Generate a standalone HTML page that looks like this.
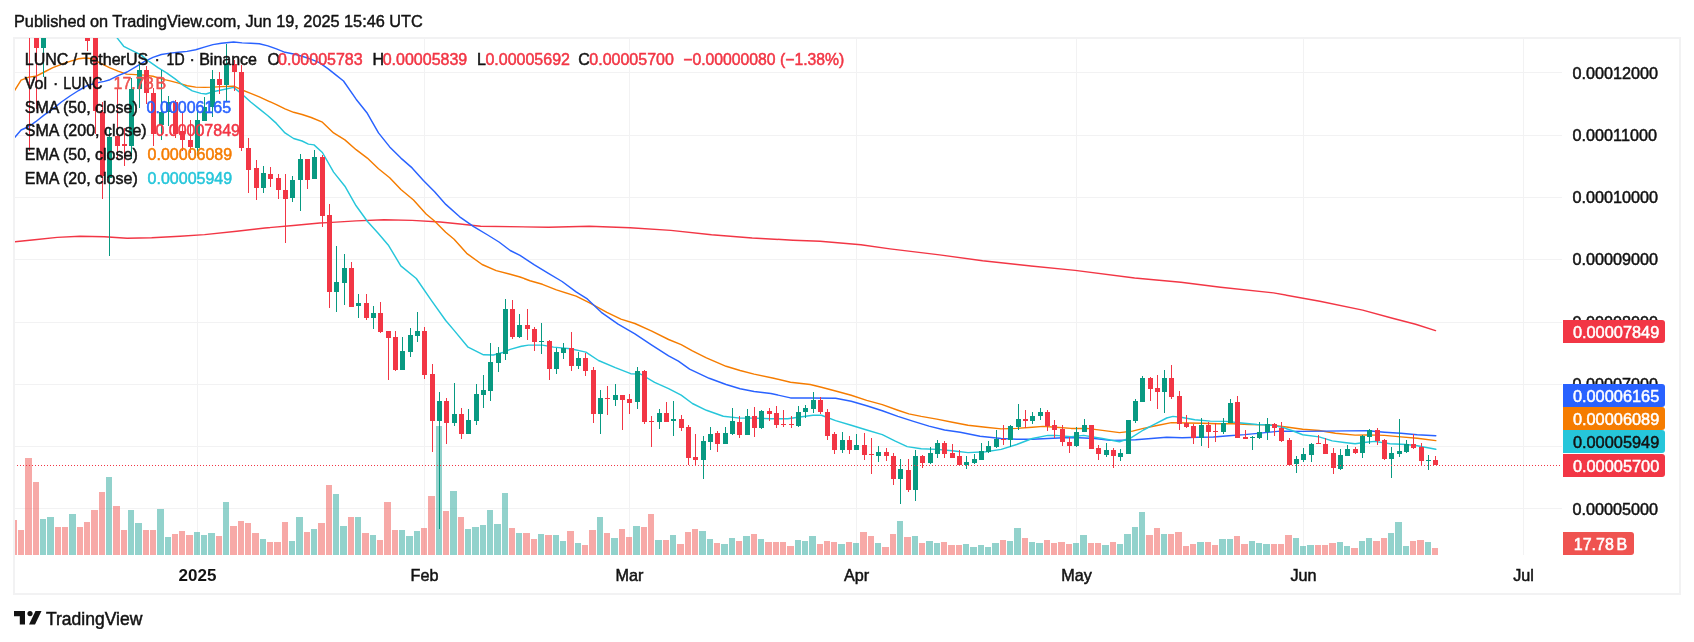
<!DOCTYPE html><html><head><meta charset="utf-8"><style>html,body{margin:0;padding:0;background:#fff;width:1694px;height:642px;overflow:hidden}svg{display:block;will-change:transform}text{font-family:"Liberation Sans",sans-serif}</style></head><body><svg width="1694" height="642" viewBox="0 0 1694 642" shape-rendering="crispEdges"><rect width="1694" height="642" fill="#fff"/><text x="14" y="27" font-size="16.3" fill="#131313" stroke="#131313" stroke-width="0.45">Published on TradingView.com, Jun 19, 2025 15:46 UTC</text><rect x="14" y="38" width="1666" height="556" fill="none" stroke="#f2f2f3" stroke-width="2"/><rect x="15" y="508" width="1547" height="1" fill="#f2f2f3"/><rect x="15" y="446" width="1547" height="1" fill="#f2f2f3"/><rect x="15" y="384" width="1547" height="1" fill="#f2f2f3"/><rect x="15" y="322" width="1547" height="1" fill="#f2f2f3"/><rect x="15" y="259" width="1547" height="1" fill="#f2f2f3"/><rect x="15" y="197" width="1547" height="1" fill="#f2f2f3"/><rect x="15" y="135" width="1547" height="1" fill="#f2f2f3"/><rect x="15" y="72" width="1547" height="1" fill="#f2f2f3"/><rect x="197" y="38" width="1" height="517" fill="#f2f2f3"/><rect x="424" y="38" width="1" height="517" fill="#f2f2f3"/><rect x="629" y="38" width="1" height="517" fill="#f2f2f3"/><rect x="856" y="38" width="1" height="517" fill="#f2f2f3"/><rect x="1076" y="38" width="1" height="517" fill="#f2f2f3"/><rect x="1303" y="38" width="1" height="517" fill="#f2f2f3"/><rect x="1523" y="38" width="1" height="517" fill="#f2f2f3"/><svg x="15" y="38" width="1547" height="517" viewBox="15 38 1547 517" overflow="hidden"><rect x="11" y="520" width="6" height="35" fill="rgba(239,83,80,0.5)"/><rect x="18" y="530" width="6" height="25" fill="rgba(239,83,80,0.5)"/><rect x="25" y="458" width="7" height="97" fill="rgba(239,83,80,0.5)"/><rect x="33" y="482" width="6" height="73" fill="rgba(239,83,80,0.5)"/><rect x="40" y="519" width="6" height="36" fill="rgba(38,166,154,0.5)"/><rect x="47" y="517" width="7" height="38" fill="rgba(38,166,154,0.5)"/><rect x="55" y="527" width="6" height="28" fill="rgba(239,83,80,0.5)"/><rect x="62" y="527" width="6" height="28" fill="rgba(239,83,80,0.5)"/><rect x="69" y="514" width="7" height="41" fill="rgba(38,166,154,0.5)"/><rect x="77" y="527" width="6" height="28" fill="rgba(239,83,80,0.5)"/><rect x="84" y="522" width="6" height="33" fill="rgba(239,83,80,0.5)"/><rect x="91" y="510" width="7" height="45" fill="rgba(239,83,80,0.5)"/><rect x="99" y="492" width="6" height="63" fill="rgba(239,83,80,0.5)"/><rect x="106" y="477" width="6" height="78" fill="rgba(38,166,154,0.5)"/><rect x="113" y="506" width="7" height="49" fill="rgba(239,83,80,0.5)"/><rect x="121" y="530" width="6" height="25" fill="rgba(239,83,80,0.5)"/><rect x="128" y="510" width="6" height="45" fill="rgba(38,166,154,0.5)"/><rect x="135" y="523" width="7" height="32" fill="rgba(38,166,154,0.5)"/><rect x="143" y="530" width="6" height="25" fill="rgba(239,83,80,0.5)"/><rect x="150" y="530" width="6" height="25" fill="rgba(239,83,80,0.5)"/><rect x="157" y="509" width="7" height="46" fill="rgba(38,166,154,0.5)"/><rect x="165" y="537" width="6" height="18" fill="rgba(38,166,154,0.5)"/><rect x="172" y="534" width="6" height="21" fill="rgba(239,83,80,0.5)"/><rect x="179" y="531" width="6" height="24" fill="rgba(239,83,80,0.5)"/><rect x="186" y="535" width="7" height="20" fill="rgba(239,83,80,0.5)"/><rect x="194" y="532" width="6" height="23" fill="rgba(38,166,154,0.5)"/><rect x="201" y="535" width="6" height="20" fill="rgba(38,166,154,0.5)"/><rect x="208" y="533" width="7" height="22" fill="rgba(38,166,154,0.5)"/><rect x="216" y="536" width="6" height="19" fill="rgba(239,83,80,0.5)"/><rect x="223" y="502" width="6" height="53" fill="rgba(38,166,154,0.5)"/><rect x="230" y="526" width="7" height="29" fill="rgba(239,83,80,0.5)"/><rect x="238" y="521" width="6" height="34" fill="rgba(239,83,80,0.5)"/><rect x="245" y="523" width="6" height="32" fill="rgba(239,83,80,0.5)"/><rect x="252" y="533" width="7" height="22" fill="rgba(239,83,80,0.5)"/><rect x="260" y="539" width="6" height="16" fill="rgba(38,166,154,0.5)"/><rect x="267" y="542" width="6" height="13" fill="rgba(239,83,80,0.5)"/><rect x="274" y="542" width="7" height="13" fill="rgba(239,83,80,0.5)"/><rect x="282" y="522" width="6" height="33" fill="rgba(239,83,80,0.5)"/><rect x="289" y="541" width="6" height="14" fill="rgba(38,166,154,0.5)"/><rect x="296" y="517" width="7" height="38" fill="rgba(38,166,154,0.5)"/><rect x="304" y="532" width="6" height="23" fill="rgba(239,83,80,0.5)"/><rect x="311" y="529" width="6" height="26" fill="rgba(38,166,154,0.5)"/><rect x="318" y="523" width="7" height="32" fill="rgba(239,83,80,0.5)"/><rect x="326" y="485" width="6" height="70" fill="rgba(239,83,80,0.5)"/><rect x="333" y="494" width="6" height="61" fill="rgba(38,166,154,0.5)"/><rect x="340" y="526" width="7" height="29" fill="rgba(38,166,154,0.5)"/><rect x="348" y="517" width="6" height="38" fill="rgba(239,83,80,0.5)"/><rect x="355" y="517" width="6" height="38" fill="rgba(38,166,154,0.5)"/><rect x="362" y="533" width="7" height="22" fill="rgba(239,83,80,0.5)"/><rect x="370" y="535" width="6" height="20" fill="rgba(38,166,154,0.5)"/><rect x="377" y="540" width="6" height="15" fill="rgba(239,83,80,0.5)"/><rect x="384" y="502" width="7" height="53" fill="rgba(239,83,80,0.5)"/><rect x="392" y="530" width="6" height="25" fill="rgba(239,83,80,0.5)"/><rect x="399" y="530" width="6" height="25" fill="rgba(38,166,154,0.5)"/><rect x="406" y="536" width="7" height="19" fill="rgba(38,166,154,0.5)"/><rect x="414" y="531" width="6" height="24" fill="rgba(38,166,154,0.5)"/><rect x="421" y="528" width="6" height="27" fill="rgba(239,83,80,0.5)"/><rect x="428" y="496" width="7" height="59" fill="rgba(239,83,80,0.5)"/><rect x="436" y="426" width="6" height="129" fill="rgba(38,166,154,0.5)"/><rect x="443" y="511" width="6" height="44" fill="rgba(239,83,80,0.5)"/><rect x="450" y="491" width="7" height="64" fill="rgba(38,166,154,0.5)"/><rect x="458" y="517" width="6" height="38" fill="rgba(239,83,80,0.5)"/><rect x="465" y="529" width="6" height="26" fill="rgba(38,166,154,0.5)"/><rect x="472" y="527" width="7" height="28" fill="rgba(38,166,154,0.5)"/><rect x="480" y="525" width="6" height="30" fill="rgba(38,166,154,0.5)"/><rect x="487" y="510" width="6" height="45" fill="rgba(38,166,154,0.5)"/><rect x="494" y="524" width="7" height="31" fill="rgba(38,166,154,0.5)"/><rect x="502" y="493" width="6" height="62" fill="rgba(38,166,154,0.5)"/><rect x="509" y="528" width="6" height="27" fill="rgba(239,83,80,0.5)"/><rect x="516" y="533" width="6" height="22" fill="rgba(38,166,154,0.5)"/><rect x="523" y="533" width="7" height="22" fill="rgba(239,83,80,0.5)"/><rect x="531" y="539" width="6" height="16" fill="rgba(239,83,80,0.5)"/><rect x="538" y="534" width="6" height="21" fill="rgba(38,166,154,0.5)"/><rect x="545" y="535" width="7" height="20" fill="rgba(239,83,80,0.5)"/><rect x="553" y="535" width="6" height="20" fill="rgba(38,166,154,0.5)"/><rect x="560" y="541" width="6" height="14" fill="rgba(38,166,154,0.5)"/><rect x="567" y="531" width="7" height="24" fill="rgba(239,83,80,0.5)"/><rect x="575" y="543" width="6" height="12" fill="rgba(38,166,154,0.5)"/><rect x="582" y="545" width="6" height="10" fill="rgba(239,83,80,0.5)"/><rect x="589" y="530" width="7" height="25" fill="rgba(239,83,80,0.5)"/><rect x="597" y="517" width="6" height="38" fill="rgba(38,166,154,0.5)"/><rect x="604" y="533" width="6" height="22" fill="rgba(239,83,80,0.5)"/><rect x="611" y="538" width="7" height="17" fill="rgba(38,166,154,0.5)"/><rect x="619" y="529" width="6" height="26" fill="rgba(239,83,80,0.5)"/><rect x="626" y="537" width="6" height="18" fill="rgba(239,83,80,0.5)"/><rect x="633" y="526" width="7" height="29" fill="rgba(38,166,154,0.5)"/><rect x="641" y="527" width="6" height="28" fill="rgba(239,83,80,0.5)"/><rect x="648" y="514" width="6" height="41" fill="rgba(239,83,80,0.5)"/><rect x="655" y="540" width="7" height="15" fill="rgba(38,166,154,0.5)"/><rect x="663" y="540" width="6" height="15" fill="rgba(239,83,80,0.5)"/><rect x="670" y="535" width="6" height="20" fill="rgba(38,166,154,0.5)"/><rect x="677" y="544" width="7" height="11" fill="rgba(239,83,80,0.5)"/><rect x="685" y="532" width="6" height="23" fill="rgba(239,83,80,0.5)"/><rect x="692" y="529" width="6" height="26" fill="rgba(239,83,80,0.5)"/><rect x="699" y="531" width="7" height="24" fill="rgba(38,166,154,0.5)"/><rect x="707" y="539" width="6" height="16" fill="rgba(38,166,154,0.5)"/><rect x="714" y="543" width="6" height="12" fill="rgba(239,83,80,0.5)"/><rect x="721" y="544" width="7" height="11" fill="rgba(38,166,154,0.5)"/><rect x="729" y="538" width="6" height="17" fill="rgba(38,166,154,0.5)"/><rect x="736" y="541" width="6" height="14" fill="rgba(239,83,80,0.5)"/><rect x="743" y="536" width="7" height="19" fill="rgba(38,166,154,0.5)"/><rect x="751" y="534" width="6" height="21" fill="rgba(239,83,80,0.5)"/><rect x="758" y="539" width="6" height="16" fill="rgba(38,166,154,0.5)"/><rect x="765" y="542" width="7" height="13" fill="rgba(239,83,80,0.5)"/><rect x="773" y="542" width="6" height="13" fill="rgba(239,83,80,0.5)"/><rect x="780" y="542" width="6" height="13" fill="rgba(239,83,80,0.5)"/><rect x="787" y="546" width="7" height="9" fill="rgba(239,83,80,0.5)"/><rect x="795" y="540" width="6" height="15" fill="rgba(38,166,154,0.5)"/><rect x="802" y="541" width="6" height="14" fill="rgba(38,166,154,0.5)"/><rect x="809" y="536" width="7" height="19" fill="rgba(38,166,154,0.5)"/><rect x="817" y="544" width="6" height="11" fill="rgba(239,83,80,0.5)"/><rect x="824" y="541" width="6" height="14" fill="rgba(239,83,80,0.5)"/><rect x="831" y="542" width="6" height="13" fill="rgba(239,83,80,0.5)"/><rect x="838" y="544" width="7" height="11" fill="rgba(38,166,154,0.5)"/><rect x="846" y="542" width="6" height="13" fill="rgba(239,83,80,0.5)"/><rect x="853" y="543" width="6" height="12" fill="rgba(38,166,154,0.5)"/><rect x="860" y="532" width="7" height="23" fill="rgba(239,83,80,0.5)"/><rect x="868" y="536" width="6" height="19" fill="rgba(239,83,80,0.5)"/><rect x="875" y="543" width="6" height="12" fill="rgba(38,166,154,0.5)"/><rect x="882" y="547" width="7" height="8" fill="rgba(239,83,80,0.5)"/><rect x="890" y="534" width="6" height="21" fill="rgba(239,83,80,0.5)"/><rect x="897" y="521" width="6" height="34" fill="rgba(38,166,154,0.5)"/><rect x="904" y="537" width="7" height="18" fill="rgba(239,83,80,0.5)"/><rect x="912" y="536" width="6" height="19" fill="rgba(38,166,154,0.5)"/><rect x="919" y="543" width="6" height="12" fill="rgba(239,83,80,0.5)"/><rect x="926" y="541" width="7" height="14" fill="rgba(38,166,154,0.5)"/><rect x="934" y="543" width="6" height="12" fill="rgba(38,166,154,0.5)"/><rect x="941" y="542" width="6" height="13" fill="rgba(239,83,80,0.5)"/><rect x="948" y="545" width="7" height="10" fill="rgba(239,83,80,0.5)"/><rect x="956" y="545" width="6" height="10" fill="rgba(239,83,80,0.5)"/><rect x="963" y="544" width="6" height="11" fill="rgba(38,166,154,0.5)"/><rect x="970" y="547" width="7" height="8" fill="rgba(38,166,154,0.5)"/><rect x="978" y="545" width="6" height="10" fill="rgba(38,166,154,0.5)"/><rect x="985" y="547" width="6" height="8" fill="rgba(38,166,154,0.5)"/><rect x="992" y="543" width="7" height="12" fill="rgba(38,166,154,0.5)"/><rect x="1000" y="540" width="6" height="15" fill="rgba(239,83,80,0.5)"/><rect x="1007" y="541" width="6" height="14" fill="rgba(38,166,154,0.5)"/><rect x="1014" y="528" width="7" height="27" fill="rgba(38,166,154,0.5)"/><rect x="1022" y="538" width="6" height="17" fill="rgba(239,83,80,0.5)"/><rect x="1029" y="542" width="6" height="13" fill="rgba(38,166,154,0.5)"/><rect x="1036" y="543" width="7" height="12" fill="rgba(38,166,154,0.5)"/><rect x="1044" y="540" width="6" height="15" fill="rgba(239,83,80,0.5)"/><rect x="1051" y="543" width="6" height="12" fill="rgba(239,83,80,0.5)"/><rect x="1058" y="542" width="7" height="13" fill="rgba(239,83,80,0.5)"/><rect x="1066" y="544" width="6" height="11" fill="rgba(239,83,80,0.5)"/><rect x="1073" y="543" width="6" height="12" fill="rgba(38,166,154,0.5)"/><rect x="1080" y="535" width="7" height="20" fill="rgba(38,166,154,0.5)"/><rect x="1088" y="543" width="6" height="12" fill="rgba(239,83,80,0.5)"/><rect x="1095" y="543" width="6" height="12" fill="rgba(239,83,80,0.5)"/><rect x="1102" y="545" width="7" height="10" fill="rgba(38,166,154,0.5)"/><rect x="1110" y="542" width="6" height="13" fill="rgba(239,83,80,0.5)"/><rect x="1117" y="544" width="6" height="11" fill="rgba(38,166,154,0.5)"/><rect x="1124" y="534" width="7" height="21" fill="rgba(38,166,154,0.5)"/><rect x="1132" y="527" width="6" height="28" fill="rgba(38,166,154,0.5)"/><rect x="1139" y="512" width="6" height="43" fill="rgba(38,166,154,0.5)"/><rect x="1146" y="535" width="7" height="20" fill="rgba(239,83,80,0.5)"/><rect x="1154" y="528" width="6" height="27" fill="rgba(239,83,80,0.5)"/><rect x="1161" y="534" width="6" height="21" fill="rgba(38,166,154,0.5)"/><rect x="1168" y="534" width="6" height="21" fill="rgba(239,83,80,0.5)"/><rect x="1175" y="532" width="7" height="23" fill="rgba(239,83,80,0.5)"/><rect x="1183" y="546" width="6" height="9" fill="rgba(239,83,80,0.5)"/><rect x="1190" y="544" width="6" height="11" fill="rgba(239,83,80,0.5)"/><rect x="1197" y="542" width="7" height="13" fill="rgba(38,166,154,0.5)"/><rect x="1205" y="542" width="6" height="13" fill="rgba(239,83,80,0.5)"/><rect x="1212" y="545" width="6" height="10" fill="rgba(239,83,80,0.5)"/><rect x="1219" y="539" width="7" height="16" fill="rgba(38,166,154,0.5)"/><rect x="1227" y="539" width="6" height="16" fill="rgba(38,166,154,0.5)"/><rect x="1234" y="536" width="6" height="19" fill="rgba(239,83,80,0.5)"/><rect x="1241" y="544" width="7" height="11" fill="rgba(239,83,80,0.5)"/><rect x="1249" y="541" width="6" height="14" fill="rgba(38,166,154,0.5)"/><rect x="1256" y="543" width="6" height="12" fill="rgba(38,166,154,0.5)"/><rect x="1263" y="544" width="7" height="11" fill="rgba(38,166,154,0.5)"/><rect x="1271" y="544" width="6" height="11" fill="rgba(239,83,80,0.5)"/><rect x="1278" y="544" width="6" height="11" fill="rgba(239,83,80,0.5)"/><rect x="1285" y="535" width="7" height="20" fill="rgba(239,83,80,0.5)"/><rect x="1293" y="538" width="6" height="17" fill="rgba(38,166,154,0.5)"/><rect x="1300" y="546" width="6" height="9" fill="rgba(38,166,154,0.5)"/><rect x="1307" y="545" width="7" height="10" fill="rgba(38,166,154,0.5)"/><rect x="1315" y="545" width="6" height="10" fill="rgba(239,83,80,0.5)"/><rect x="1322" y="545" width="6" height="10" fill="rgba(239,83,80,0.5)"/><rect x="1329" y="543" width="7" height="12" fill="rgba(239,83,80,0.5)"/><rect x="1337" y="542" width="6" height="13" fill="rgba(38,166,154,0.5)"/><rect x="1344" y="546" width="6" height="9" fill="rgba(38,166,154,0.5)"/><rect x="1351" y="548" width="7" height="7" fill="rgba(239,83,80,0.5)"/><rect x="1359" y="541" width="6" height="14" fill="rgba(38,166,154,0.5)"/><rect x="1366" y="538" width="6" height="17" fill="rgba(38,166,154,0.5)"/><rect x="1373" y="541" width="7" height="14" fill="rgba(239,83,80,0.5)"/><rect x="1381" y="538" width="6" height="17" fill="rgba(239,83,80,0.5)"/><rect x="1388" y="533" width="6" height="22" fill="rgba(38,166,154,0.5)"/><rect x="1395" y="522" width="7" height="33" fill="rgba(38,166,154,0.5)"/><rect x="1403" y="546" width="6" height="9" fill="rgba(38,166,154,0.5)"/><rect x="1410" y="541" width="6" height="14" fill="rgba(239,83,80,0.5)"/><rect x="1417" y="540" width="7" height="15" fill="rgba(239,83,80,0.5)"/><rect x="1425" y="542" width="6" height="13" fill="rgba(38,166,154,0.5)"/><rect x="1432" y="548" width="6" height="7" fill="rgba(239,83,80,0.5)"/><polyline points="14.2,241.9 34.6,239.7 57.2,237.4 79.9,236.3 104.4,236.8 127.1,238.3 151.7,237.8 180.0,236.3 204.6,234.6 236.7,231.2 265.0,228.0 293.3,225.5 319.8,223.0 328.0,222.6 356.1,220.9 384.1,219.8 412.1,220.4 440.2,222.0 460.0,224.0 480.7,226.3 548.6,227.2 589.3,226.3 630.0,227.7 670.8,230.4 711.5,234.8 752.2,238.0 793.0,240.2 820.1,241.3 860.9,244.8 890.0,248.9 939.6,254.9 982.6,260.8 1028.8,265.8 1075.1,270.4 1134.6,278.0 1180.9,282.3 1220.6,287.3 1273.5,292.9 1319.8,301.2 1362.7,310.1 1392.5,318.3 1415.6,324.3 1435.5,330.6" fill="none" stroke="#f23645" stroke-width="1.45" stroke-linejoin="round" stroke-linecap="round" shape-rendering="geometricPrecision"/><polyline points="14.3,90.9 21.1,80.2 28.9,77.1 35.7,76.3 44.3,72.0 52.9,67.7 61.4,64.3 70.0,61.4 78.6,58.8 85.4,58.0 92.3,58.8 100.9,63.4 109.4,67.7 118.0,71.1 126.6,74.1 135.7,74.6 144.3,75.1 152.9,76.3 161.4,78.9 170.0,80.9 178.6,83.1 187.1,85.7 195.7,87.1 204.3,87.4 212.9,87.1 221.4,86.6 233.6,86.2 242.1,90.0 250.7,93.4 259.3,96.9 267.9,100.8 276.4,104.6 285.0,108.9 293.6,112.3 302.1,114.5 311.2,117.5 322.4,122.2 333.6,132.9 344.9,139.9 356.1,149.7 367.3,158.1 378.5,168.8 389.7,177.7 400.9,189.5 413.5,200.0 426.1,214.0 434.5,221.0 445.7,232.2 454.1,239.2 466.7,253.3 482.1,264.5 496.2,270.6 510.2,274.3 520.0,277.0 530.0,280.7 542.4,284.3 556.4,289.9 576.1,296.1 590.1,303.1 606.9,312.3 620.9,319.1 634.9,323.5 651.8,331.1 668.6,339.5 681.2,344.7 692.4,350.8 706.4,357.8 726.1,366.3 740.1,370.5 754.1,374.1 773.7,378.3 790.5,382.2 810.2,384.5 821.4,387.3 835.6,391.0 851.2,395.2 866.7,400.4 882.3,404.6 897.9,410.2 908.8,413.9 921.2,416.4 936.8,419.1 952.4,422.2 968.0,425.3 985.6,427.3 1001.2,428.9 1016.7,428.4 1032.3,427.3 1043.2,426.4 1055.7,427.3 1071.2,428.4 1086.8,428.4 1102.4,430.4 1119.5,432.6 1132.5,431.1 1143.4,428.4 1155.8,425.8 1171.4,422.6 1187.0,423.0 1202.6,423.3 1218.1,423.7 1233.7,423.7 1249.3,424.5 1264.9,424.8 1270.0,424.9 1286.4,427.0 1302.7,429.2 1319.1,430.5 1335.4,433.3 1355.1,435.1 1368.1,434.9 1384.5,435.4 1400.9,436.9 1417.2,438.2 1435.8,440.6" fill="none" stroke="#f57c00" stroke-width="1.45" stroke-linejoin="round" stroke-linecap="round" shape-rendering="geometricPrecision"/><polyline points="14.3,138.0 21.1,130.0 28.9,126.5 35.7,121.7 44.3,114.9 52.9,108.9 61.4,102.0 70.0,96.0 78.6,90.5 87.1,85.7 95.7,83.1 104.3,81.4 110.0,79.7 118.6,75.4 127.1,72.0 135.7,66.9 144.3,61.7 152.9,57.4 161.4,54.5 170.0,53.1 178.6,52.3 187.1,51.4 195.7,49.7 204.3,47.1 212.9,44.6 221.4,43.2 233.6,42.0 242.1,42.9 250.7,43.2 259.3,43.7 267.9,45.9 276.4,48.9 285.0,52.3 293.6,54.0 302.1,56.2 310.7,59.1 319.3,62.6 327.9,68.6 336.4,75.4 343.5,81.0 356.1,99.2 367.3,113.3 378.5,132.9 389.7,146.9 400.9,158.1 412.1,167.9 423.4,180.5 434.6,191.8 445.8,204.4 459.7,216.8 473.7,226.6 487.7,235.0 499.0,242.0 510.2,250.5 520.0,255.4 534.0,264.7 548.0,273.1 562.1,281.5 576.1,291.9 587.3,298.9 601.3,312.3 618.1,324.1 634.9,333.9 651.8,345.1 668.6,355.8 678.4,361.2 689.6,369.1 709.2,378.3 726.1,384.5 740.1,388.7 754.1,391.5 770.9,393.5 790.5,397.9 810.2,397.9 835.6,398.3 851.2,401.2 866.7,405.8 882.3,410.8 897.9,416.4 913.5,421.4 929.0,426.1 944.6,430.0 960.2,432.3 980.0,436.2 1001.2,438.5 1016.7,439.3 1032.3,439.3 1047.9,438.5 1063.5,437.8 1079.0,437.8 1094.6,438.5 1110.2,440.4 1125.8,440.1 1135.6,439.8 1151.2,438.5 1166.7,437.3 1182.3,437.8 1197.9,437.3 1213.5,437.0 1229.0,435.7 1244.6,434.6 1260.2,433.1 1280.0,431.1 1302.7,431.4 1324.5,431.1 1346.3,430.9 1368.1,430.8 1384.5,432.2 1400.9,433.3 1417.2,434.7 1435.8,435.8" fill="none" stroke="#2962ff" stroke-width="1.45" stroke-linejoin="round" stroke-linecap="round" shape-rendering="geometricPrecision"/><polyline points="108.0,26.0 117.7,38.6 123.7,46.3 132.3,50.6 140.9,54.9 149.4,61.7 158.0,67.7 166.6,72.9 175.1,78.9 183.7,85.7 192.3,90.9 200.9,93.4 206.0,94.0 212.9,91.7 221.4,90.0 233.6,87.4 242.1,94.3 250.7,102.0 259.3,108.9 267.9,115.7 276.4,123.4 285.0,132.9 293.6,138.5 302.1,141.0 308.4,144.1 314.0,144.9 322.4,152.5 333.6,172.1 344.9,186.2 356.1,205.8 367.3,221.2 378.4,233.6 388.2,244.9 400.8,265.9 416.3,278.5 431.7,300.9 445.7,320.5 454.1,330.4 468.1,347.2 483.5,354.8 493.4,355.0 501.8,352.8 510.2,349.4 521.4,346.3 528.4,345.1 542.4,345.1 553.6,347.1 570.5,348.8 585.9,352.1 598.5,360.5 615.3,367.6 630.7,373.7 640.5,374.0 654.6,382.4 668.6,388.6 681.2,395.1 692.4,403.5 706.4,410.3 723.3,416.2 740.1,418.1 754.1,418.1 770.9,418.7 787.7,418.7 801.8,416.7 813.0,415.3 821.4,415.3 835.6,420.6 851.2,425.3 866.7,430.0 882.3,434.6 894.8,440.9 907.2,446.6 921.2,448.7 936.8,449.4 952.4,450.7 968.0,452.6 985.6,451.8 1001.2,449.4 1016.7,444.5 1032.3,438.5 1047.9,435.4 1055.7,435.4 1071.2,436.7 1083.7,435.4 1102.4,438.5 1119.5,441.7 1130.9,437.8 1143.4,430.0 1155.8,423.7 1166.7,418.0 1173.0,416.4 1182.3,417.5 1194.8,419.8 1210.3,421.1 1225.9,421.4 1241.5,423.0 1257.1,424.5 1272.6,425.3 1283.1,427.5 1291.8,430.5 1302.7,434.7 1319.1,436.9 1332.2,440.9 1344.2,442.5 1355.1,443.8 1366.0,442.3 1374.7,441.4 1390.0,443.8 1406.3,444.5 1417.2,445.8 1435.8,449.3" fill="none" stroke="#26c6da" stroke-width="1.45" stroke-linejoin="round" stroke-linecap="round" shape-rendering="geometricPrecision"/><rect x="29" y="0" width="1" height="151" fill="#f23645"/><rect x="27" y="0" width="5" height="30" fill="#f23645"/><rect x="36" y="0" width="1" height="109" fill="#f23645"/><rect x="34" y="0" width="5" height="48" fill="#f23645"/><rect x="43" y="0" width="1" height="77" fill="#089981"/><rect x="41" y="0" width="5" height="48" fill="#089981"/><rect x="87" y="0" width="1" height="51" fill="#f23645"/><rect x="85" y="0" width="5" height="41" fill="#f23645"/><rect x="95" y="0" width="1" height="134" fill="#f23645"/><rect x="93" y="0" width="5" height="111" fill="#f23645"/><rect x="102" y="102" width="1" height="97" fill="#f23645"/><rect x="100" y="112" width="5" height="64" fill="#f23645"/><rect x="109" y="128" width="1" height="128" fill="#089981"/><rect x="107" y="137" width="5" height="41" fill="#089981"/><rect x="117" y="89" width="1" height="70" fill="#f23645"/><rect x="115" y="136" width="5" height="10" fill="#f23645"/><rect x="124" y="128" width="1" height="38" fill="#f23645"/><rect x="122" y="144" width="5" height="2" fill="#f23645"/><rect x="131" y="78" width="1" height="81" fill="#089981"/><rect x="129" y="89" width="5" height="57" fill="#089981"/><rect x="139" y="64" width="1" height="44" fill="#089981"/><rect x="137" y="70" width="5" height="19" fill="#089981"/><rect x="146" y="66" width="1" height="38" fill="#f23645"/><rect x="144" y="70" width="5" height="23" fill="#f23645"/><rect x="153" y="88" width="1" height="58" fill="#f23645"/><rect x="151" y="93" width="5" height="41" fill="#f23645"/><rect x="161" y="70" width="1" height="70" fill="#089981"/><rect x="159" y="112" width="5" height="13" fill="#089981"/><rect x="168" y="96" width="1" height="30" fill="#089981"/><rect x="166" y="102" width="5" height="10" fill="#089981"/><rect x="175" y="100" width="1" height="38" fill="#f23645"/><rect x="173" y="102" width="5" height="32" fill="#f23645"/><rect x="182" y="112" width="1" height="39" fill="#f23645"/><rect x="180" y="131" width="5" height="9" fill="#f23645"/><rect x="190" y="120" width="1" height="33" fill="#f23645"/><rect x="188" y="140" width="5" height="7" fill="#f23645"/><rect x="197" y="109" width="1" height="47" fill="#089981"/><rect x="195" y="120" width="5" height="28" fill="#089981"/><rect x="204" y="97" width="1" height="24" fill="#089981"/><rect x="202" y="107" width="5" height="14" fill="#089981"/><rect x="212" y="70" width="1" height="47" fill="#089981"/><rect x="210" y="79" width="5" height="28" fill="#089981"/><rect x="219" y="72" width="1" height="22" fill="#f23645"/><rect x="217" y="79" width="5" height="6" fill="#f23645"/><rect x="226" y="44" width="1" height="57" fill="#089981"/><rect x="224" y="64" width="5" height="21" fill="#089981"/><rect x="234" y="60" width="1" height="31" fill="#f23645"/><rect x="232" y="64" width="5" height="8" fill="#f23645"/><rect x="241" y="65" width="1" height="86" fill="#f23645"/><rect x="239" y="72" width="5" height="76" fill="#f23645"/><rect x="248" y="138" width="1" height="55" fill="#f23645"/><rect x="246" y="148" width="5" height="22" fill="#f23645"/><rect x="256" y="160" width="1" height="40" fill="#f23645"/><rect x="254" y="168" width="5" height="20" fill="#f23645"/><rect x="263" y="166" width="1" height="27" fill="#089981"/><rect x="261" y="173" width="5" height="15" fill="#089981"/><rect x="270" y="167" width="1" height="20" fill="#f23645"/><rect x="268" y="174" width="5" height="5" fill="#f23645"/><rect x="278" y="174" width="1" height="25" fill="#f23645"/><rect x="276" y="178" width="5" height="12" fill="#f23645"/><rect x="285" y="174" width="1" height="69" fill="#f23645"/><rect x="283" y="190" width="5" height="9" fill="#f23645"/><rect x="292" y="176" width="1" height="26" fill="#089981"/><rect x="290" y="180" width="5" height="18" fill="#089981"/><rect x="300" y="154" width="1" height="57" fill="#089981"/><rect x="298" y="159" width="5" height="21" fill="#089981"/><rect x="307" y="159" width="1" height="30" fill="#f23645"/><rect x="305" y="159" width="5" height="21" fill="#f23645"/><rect x="314" y="150" width="1" height="29" fill="#089981"/><rect x="312" y="157" width="5" height="22" fill="#089981"/><rect x="322" y="155" width="1" height="72" fill="#f23645"/><rect x="320" y="157" width="5" height="59" fill="#f23645"/><rect x="329" y="204" width="1" height="104" fill="#f23645"/><rect x="327" y="215" width="5" height="77" fill="#f23645"/><rect x="336" y="246" width="1" height="66" fill="#089981"/><rect x="334" y="282" width="5" height="10" fill="#089981"/><rect x="344" y="254" width="1" height="51" fill="#089981"/><rect x="342" y="268" width="5" height="15" fill="#089981"/><rect x="351" y="262" width="1" height="45" fill="#f23645"/><rect x="349" y="268" width="5" height="39" fill="#f23645"/><rect x="358" y="294" width="1" height="24" fill="#089981"/><rect x="356" y="303" width="5" height="3" fill="#089981"/><rect x="366" y="294" width="1" height="26" fill="#f23645"/><rect x="364" y="303" width="5" height="15" fill="#f23645"/><rect x="373" y="306" width="1" height="23" fill="#089981"/><rect x="371" y="313" width="5" height="5" fill="#089981"/><rect x="380" y="302" width="1" height="31" fill="#f23645"/><rect x="378" y="313" width="5" height="19" fill="#f23645"/><rect x="388" y="331" width="1" height="49" fill="#f23645"/><rect x="386" y="331" width="5" height="7" fill="#f23645"/><rect x="395" y="331" width="1" height="40" fill="#f23645"/><rect x="393" y="337" width="5" height="33" fill="#f23645"/><rect x="402" y="337" width="1" height="33" fill="#089981"/><rect x="400" y="351" width="5" height="19" fill="#089981"/><rect x="410" y="328" width="1" height="29" fill="#089981"/><rect x="408" y="335" width="5" height="17" fill="#089981"/><rect x="417" y="312" width="1" height="30" fill="#089981"/><rect x="415" y="331" width="5" height="5" fill="#089981"/><rect x="424" y="327" width="1" height="52" fill="#f23645"/><rect x="422" y="331" width="5" height="44" fill="#f23645"/><rect x="432" y="364" width="1" height="88" fill="#f23645"/><rect x="430" y="374" width="5" height="47" fill="#f23645"/><rect x="439" y="392" width="1" height="137" fill="#089981"/><rect x="437" y="401" width="5" height="20" fill="#089981"/><rect x="446" y="398" width="1" height="46" fill="#f23645"/><rect x="444" y="401" width="5" height="22" fill="#f23645"/><rect x="454" y="383" width="1" height="43" fill="#089981"/><rect x="452" y="414" width="5" height="9" fill="#089981"/><rect x="461" y="408" width="1" height="31" fill="#f23645"/><rect x="459" y="414" width="5" height="20" fill="#f23645"/><rect x="468" y="409" width="1" height="25" fill="#089981"/><rect x="466" y="420" width="5" height="14" fill="#089981"/><rect x="476" y="384" width="1" height="41" fill="#089981"/><rect x="474" y="394" width="5" height="27" fill="#089981"/><rect x="483" y="375" width="1" height="33" fill="#089981"/><rect x="481" y="390" width="5" height="5" fill="#089981"/><rect x="490" y="343" width="1" height="58" fill="#089981"/><rect x="488" y="362" width="5" height="29" fill="#089981"/><rect x="498" y="347" width="1" height="25" fill="#089981"/><rect x="496" y="353" width="5" height="10" fill="#089981"/><rect x="505" y="299" width="1" height="61" fill="#089981"/><rect x="503" y="309" width="5" height="45" fill="#089981"/><rect x="512" y="300" width="1" height="39" fill="#f23645"/><rect x="510" y="309" width="5" height="28" fill="#f23645"/><rect x="519" y="314" width="1" height="24" fill="#089981"/><rect x="517" y="325" width="5" height="12" fill="#089981"/><rect x="527" y="309" width="1" height="31" fill="#f23645"/><rect x="525" y="325" width="5" height="4" fill="#f23645"/><rect x="534" y="327" width="1" height="24" fill="#f23645"/><rect x="532" y="329" width="5" height="13" fill="#f23645"/><rect x="541" y="323" width="1" height="31" fill="#089981"/><rect x="539" y="341" width="5" height="1" fill="#089981"/><rect x="549" y="340" width="1" height="40" fill="#f23645"/><rect x="547" y="341" width="5" height="28" fill="#f23645"/><rect x="556" y="348" width="1" height="26" fill="#089981"/><rect x="554" y="352" width="5" height="17" fill="#089981"/><rect x="563" y="343" width="1" height="16" fill="#089981"/><rect x="561" y="348" width="5" height="5" fill="#089981"/><rect x="571" y="332" width="1" height="39" fill="#f23645"/><rect x="569" y="348" width="5" height="18" fill="#f23645"/><rect x="578" y="352" width="1" height="17" fill="#089981"/><rect x="576" y="358" width="5" height="8" fill="#089981"/><rect x="585" y="353" width="1" height="23" fill="#f23645"/><rect x="583" y="358" width="5" height="13" fill="#f23645"/><rect x="593" y="367" width="1" height="56" fill="#f23645"/><rect x="591" y="370" width="5" height="44" fill="#f23645"/><rect x="600" y="390" width="1" height="44" fill="#089981"/><rect x="598" y="398" width="5" height="16" fill="#089981"/><rect x="607" y="386" width="1" height="29" fill="#f23645"/><rect x="605" y="398" width="5" height="1" fill="#f23645"/><rect x="615" y="384" width="1" height="22" fill="#089981"/><rect x="613" y="395" width="5" height="5" fill="#089981"/><rect x="622" y="395" width="1" height="35" fill="#f23645"/><rect x="620" y="395" width="5" height="5" fill="#f23645"/><rect x="629" y="394" width="1" height="20" fill="#f23645"/><rect x="627" y="399" width="5" height="4" fill="#f23645"/><rect x="637" y="367" width="1" height="42" fill="#089981"/><rect x="635" y="371" width="5" height="31" fill="#089981"/><rect x="644" y="370" width="1" height="54" fill="#f23645"/><rect x="642" y="371" width="5" height="51" fill="#f23645"/><rect x="651" y="416" width="1" height="31" fill="#f23645"/><rect x="649" y="421" width="5" height="1" fill="#f23645"/><rect x="659" y="409" width="1" height="20" fill="#089981"/><rect x="657" y="413" width="5" height="9" fill="#089981"/><rect x="666" y="402" width="1" height="20" fill="#f23645"/><rect x="664" y="413" width="5" height="9" fill="#f23645"/><rect x="673" y="401" width="1" height="35" fill="#089981"/><rect x="671" y="419" width="5" height="2" fill="#089981"/><rect x="681" y="415" width="1" height="16" fill="#f23645"/><rect x="679" y="419" width="5" height="9" fill="#f23645"/><rect x="688" y="425" width="1" height="40" fill="#f23645"/><rect x="686" y="427" width="5" height="31" fill="#f23645"/><rect x="695" y="434" width="1" height="31" fill="#f23645"/><rect x="693" y="457" width="5" height="3" fill="#f23645"/><rect x="703" y="436" width="1" height="43" fill="#089981"/><rect x="701" y="441" width="5" height="19" fill="#089981"/><rect x="710" y="427" width="1" height="23" fill="#089981"/><rect x="708" y="434" width="5" height="8" fill="#089981"/><rect x="717" y="431" width="1" height="21" fill="#f23645"/><rect x="715" y="433" width="5" height="11" fill="#f23645"/><rect x="725" y="427" width="1" height="17" fill="#089981"/><rect x="723" y="433" width="5" height="11" fill="#089981"/><rect x="732" y="408" width="1" height="27" fill="#089981"/><rect x="730" y="421" width="5" height="13" fill="#089981"/><rect x="739" y="416" width="1" height="22" fill="#f23645"/><rect x="737" y="422" width="5" height="13" fill="#f23645"/><rect x="747" y="409" width="1" height="26" fill="#089981"/><rect x="745" y="416" width="5" height="19" fill="#089981"/><rect x="754" y="407" width="1" height="30" fill="#f23645"/><rect x="752" y="416" width="5" height="12" fill="#f23645"/><rect x="761" y="410" width="1" height="19" fill="#089981"/><rect x="759" y="411" width="5" height="17" fill="#089981"/><rect x="769" y="408" width="1" height="13" fill="#f23645"/><rect x="767" y="411" width="5" height="3" fill="#f23645"/><rect x="776" y="406" width="1" height="22" fill="#f23645"/><rect x="774" y="413" width="5" height="12" fill="#f23645"/><rect x="783" y="410" width="1" height="17" fill="#f23645"/><rect x="781" y="424" width="5" height="1" fill="#f23645"/><rect x="791" y="416" width="1" height="12" fill="#f23645"/><rect x="789" y="424" width="5" height="1" fill="#f23645"/><rect x="798" y="406" width="1" height="21" fill="#089981"/><rect x="796" y="412" width="5" height="14" fill="#089981"/><rect x="805" y="405" width="1" height="13" fill="#089981"/><rect x="803" y="408" width="5" height="4" fill="#089981"/><rect x="813" y="392" width="1" height="21" fill="#089981"/><rect x="811" y="400" width="5" height="9" fill="#089981"/><rect x="820" y="397" width="1" height="17" fill="#f23645"/><rect x="818" y="400" width="5" height="12" fill="#f23645"/><rect x="827" y="409" width="1" height="31" fill="#f23645"/><rect x="825" y="412" width="5" height="24" fill="#f23645"/><rect x="834" y="432" width="1" height="22" fill="#f23645"/><rect x="832" y="434" width="5" height="16" fill="#f23645"/><rect x="842" y="432" width="1" height="21" fill="#089981"/><rect x="840" y="440" width="5" height="10" fill="#089981"/><rect x="849" y="436" width="1" height="18" fill="#f23645"/><rect x="847" y="440" width="5" height="10" fill="#f23645"/><rect x="856" y="434" width="1" height="16" fill="#089981"/><rect x="854" y="445" width="5" height="5" fill="#089981"/><rect x="864" y="433" width="1" height="27" fill="#f23645"/><rect x="862" y="445" width="5" height="10" fill="#f23645"/><rect x="871" y="438" width="1" height="36" fill="#f23645"/><rect x="869" y="454" width="5" height="1" fill="#f23645"/><rect x="878" y="446" width="1" height="16" fill="#089981"/><rect x="876" y="452" width="5" height="4" fill="#089981"/><rect x="886" y="448" width="1" height="13" fill="#f23645"/><rect x="884" y="452" width="5" height="4" fill="#f23645"/><rect x="893" y="453" width="1" height="32" fill="#f23645"/><rect x="891" y="456" width="5" height="23" fill="#f23645"/><rect x="900" y="459" width="1" height="45" fill="#089981"/><rect x="898" y="469" width="5" height="10" fill="#089981"/><rect x="908" y="459" width="1" height="33" fill="#f23645"/><rect x="906" y="470" width="5" height="20" fill="#f23645"/><rect x="915" y="450" width="1" height="51" fill="#089981"/><rect x="913" y="456" width="5" height="34" fill="#089981"/><rect x="922" y="455" width="1" height="13" fill="#f23645"/><rect x="920" y="456" width="5" height="7" fill="#f23645"/><rect x="930" y="447" width="1" height="17" fill="#089981"/><rect x="928" y="453" width="5" height="10" fill="#089981"/><rect x="937" y="440" width="1" height="18" fill="#089981"/><rect x="935" y="443" width="5" height="11" fill="#089981"/><rect x="944" y="441" width="1" height="17" fill="#f23645"/><rect x="942" y="443" width="5" height="11" fill="#f23645"/><rect x="952" y="444" width="1" height="14" fill="#f23645"/><rect x="950" y="453" width="5" height="5" fill="#f23645"/><rect x="959" y="450" width="1" height="15" fill="#f23645"/><rect x="957" y="456" width="5" height="9" fill="#f23645"/><rect x="966" y="456" width="1" height="13" fill="#089981"/><rect x="964" y="462" width="5" height="3" fill="#089981"/><rect x="974" y="454" width="1" height="10" fill="#089981"/><rect x="972" y="459" width="5" height="4" fill="#089981"/><rect x="981" y="443" width="1" height="17" fill="#089981"/><rect x="979" y="451" width="5" height="9" fill="#089981"/><rect x="988" y="441" width="1" height="12" fill="#089981"/><rect x="986" y="446" width="5" height="6" fill="#089981"/><rect x="996" y="430" width="1" height="18" fill="#089981"/><rect x="994" y="439" width="5" height="8" fill="#089981"/><rect x="1003" y="425" width="1" height="20" fill="#f23645"/><rect x="1001" y="439" width="5" height="1" fill="#f23645"/><rect x="1010" y="425" width="1" height="22" fill="#089981"/><rect x="1008" y="426" width="5" height="14" fill="#089981"/><rect x="1018" y="404" width="1" height="26" fill="#089981"/><rect x="1016" y="419" width="5" height="8" fill="#089981"/><rect x="1025" y="410" width="1" height="18" fill="#f23645"/><rect x="1023" y="419" width="5" height="2" fill="#f23645"/><rect x="1032" y="412" width="1" height="12" fill="#089981"/><rect x="1030" y="416" width="5" height="5" fill="#089981"/><rect x="1040" y="408" width="1" height="12" fill="#089981"/><rect x="1038" y="412" width="5" height="4" fill="#089981"/><rect x="1047" y="410" width="1" height="21" fill="#f23645"/><rect x="1045" y="412" width="5" height="14" fill="#f23645"/><rect x="1054" y="420" width="1" height="18" fill="#f23645"/><rect x="1052" y="425" width="5" height="5" fill="#f23645"/><rect x="1062" y="425" width="1" height="21" fill="#f23645"/><rect x="1060" y="429" width="5" height="13" fill="#f23645"/><rect x="1069" y="437" width="1" height="16" fill="#f23645"/><rect x="1067" y="442" width="5" height="4" fill="#f23645"/><rect x="1076" y="427" width="1" height="20" fill="#089981"/><rect x="1074" y="432" width="5" height="14" fill="#089981"/><rect x="1084" y="419" width="1" height="13" fill="#089981"/><rect x="1082" y="425" width="5" height="7" fill="#089981"/><rect x="1091" y="425" width="1" height="24" fill="#f23645"/><rect x="1089" y="425" width="5" height="24" fill="#f23645"/><rect x="1098" y="445" width="1" height="15" fill="#f23645"/><rect x="1096" y="448" width="5" height="6" fill="#f23645"/><rect x="1106" y="443" width="1" height="14" fill="#089981"/><rect x="1104" y="450" width="5" height="5" fill="#089981"/><rect x="1113" y="448" width="1" height="20" fill="#f23645"/><rect x="1111" y="450" width="5" height="6" fill="#f23645"/><rect x="1120" y="449" width="1" height="12" fill="#089981"/><rect x="1118" y="453" width="5" height="4" fill="#089981"/><rect x="1128" y="420" width="1" height="34" fill="#089981"/><rect x="1126" y="420" width="5" height="34" fill="#089981"/><rect x="1135" y="399" width="1" height="24" fill="#089981"/><rect x="1133" y="401" width="5" height="20" fill="#089981"/><rect x="1142" y="376" width="1" height="26" fill="#089981"/><rect x="1140" y="378" width="5" height="24" fill="#089981"/><rect x="1150" y="377" width="1" height="24" fill="#f23645"/><rect x="1148" y="378" width="5" height="11" fill="#f23645"/><rect x="1157" y="375" width="1" height="34" fill="#f23645"/><rect x="1155" y="388" width="5" height="4" fill="#f23645"/><rect x="1164" y="370" width="1" height="43" fill="#089981"/><rect x="1162" y="378" width="5" height="14" fill="#089981"/><rect x="1171" y="365" width="1" height="34" fill="#f23645"/><rect x="1169" y="378" width="5" height="19" fill="#f23645"/><rect x="1179" y="391" width="1" height="39" fill="#f23645"/><rect x="1177" y="396" width="5" height="28" fill="#f23645"/><rect x="1186" y="415" width="1" height="13" fill="#f23645"/><rect x="1184" y="423" width="5" height="4" fill="#f23645"/><rect x="1193" y="424" width="1" height="20" fill="#f23645"/><rect x="1191" y="426" width="5" height="12" fill="#f23645"/><rect x="1201" y="418" width="1" height="28" fill="#089981"/><rect x="1199" y="425" width="5" height="13" fill="#089981"/><rect x="1208" y="422" width="1" height="26" fill="#f23645"/><rect x="1206" y="425" width="5" height="7" fill="#f23645"/><rect x="1215" y="423" width="1" height="19" fill="#f23645"/><rect x="1213" y="431" width="5" height="1" fill="#f23645"/><rect x="1223" y="418" width="1" height="16" fill="#089981"/><rect x="1221" y="423" width="5" height="9" fill="#089981"/><rect x="1230" y="399" width="1" height="24" fill="#089981"/><rect x="1228" y="403" width="5" height="20" fill="#089981"/><rect x="1237" y="396" width="1" height="42" fill="#f23645"/><rect x="1235" y="402" width="5" height="36" fill="#f23645"/><rect x="1245" y="430" width="1" height="9" fill="#f23645"/><rect x="1243" y="437" width="5" height="2" fill="#f23645"/><rect x="1252" y="436" width="1" height="14" fill="#089981"/><rect x="1250" y="437" width="5" height="1" fill="#089981"/><rect x="1259" y="422" width="1" height="17" fill="#089981"/><rect x="1257" y="432" width="5" height="6" fill="#089981"/><rect x="1267" y="418" width="1" height="22" fill="#089981"/><rect x="1265" y="424" width="5" height="8" fill="#089981"/><rect x="1274" y="423" width="1" height="13" fill="#f23645"/><rect x="1272" y="424" width="5" height="4" fill="#f23645"/><rect x="1281" y="422" width="1" height="20" fill="#f23645"/><rect x="1279" y="428" width="5" height="13" fill="#f23645"/><rect x="1289" y="438" width="1" height="28" fill="#f23645"/><rect x="1287" y="440" width="5" height="25" fill="#f23645"/><rect x="1296" y="456" width="1" height="17" fill="#089981"/><rect x="1294" y="459" width="5" height="5" fill="#089981"/><rect x="1303" y="448" width="1" height="14" fill="#089981"/><rect x="1301" y="454" width="5" height="6" fill="#089981"/><rect x="1311" y="443" width="1" height="19" fill="#089981"/><rect x="1309" y="444" width="5" height="11" fill="#089981"/><rect x="1318" y="435" width="1" height="9" fill="#f23645"/><rect x="1316" y="443" width="5" height="1" fill="#f23645"/><rect x="1325" y="438" width="1" height="16" fill="#f23645"/><rect x="1323" y="444" width="5" height="10" fill="#f23645"/><rect x="1333" y="448" width="1" height="26" fill="#f23645"/><rect x="1331" y="453" width="5" height="15" fill="#f23645"/><rect x="1340" y="449" width="1" height="21" fill="#089981"/><rect x="1338" y="455" width="5" height="14" fill="#089981"/><rect x="1347" y="445" width="1" height="11" fill="#089981"/><rect x="1345" y="449" width="5" height="7" fill="#089981"/><rect x="1355" y="447" width="1" height="7" fill="#f23645"/><rect x="1353" y="449" width="5" height="4" fill="#f23645"/><rect x="1362" y="435" width="1" height="23" fill="#089981"/><rect x="1360" y="436" width="5" height="17" fill="#089981"/><rect x="1369" y="429" width="1" height="15" fill="#089981"/><rect x="1367" y="430" width="5" height="7" fill="#089981"/><rect x="1377" y="428" width="1" height="17" fill="#f23645"/><rect x="1375" y="430" width="5" height="11" fill="#f23645"/><rect x="1384" y="439" width="1" height="21" fill="#f23645"/><rect x="1382" y="440" width="5" height="19" fill="#f23645"/><rect x="1391" y="447" width="1" height="31" fill="#089981"/><rect x="1389" y="453" width="5" height="6" fill="#089981"/><rect x="1399" y="419" width="1" height="38" fill="#089981"/><rect x="1397" y="451" width="5" height="3" fill="#089981"/><rect x="1406" y="440" width="1" height="13" fill="#089981"/><rect x="1404" y="444" width="5" height="8" fill="#089981"/><rect x="1413" y="434" width="1" height="15" fill="#f23645"/><rect x="1411" y="444" width="5" height="4" fill="#f23645"/><rect x="1421" y="443" width="1" height="22" fill="#f23645"/><rect x="1419" y="447" width="5" height="14" fill="#f23645"/><rect x="1428" y="455" width="1" height="15" fill="#089981"/><rect x="1426" y="460" width="5" height="1" fill="#089981"/><rect x="1435" y="456" width="1" height="9" fill="#f23645"/><rect x="1433" y="460" width="5" height="5" fill="#f23645"/><line x1="15" y1="465.5" x2="1562" y2="465.5" stroke="#f23645" stroke-width="1" stroke-dasharray="1 2" stroke-dashoffset="1"/></svg><text x="24.8" y="65" font-size="16" fill="#131313" stroke="#131313" stroke-width="0.5" >LUNC / TetherUS</text><text x="154.5" y="65" font-size="16" fill="#131313" stroke="#131313" stroke-width="0.5" >·</text><text x="166.6" y="65" font-size="16" fill="#131313" stroke="#131313" stroke-width="0.5" textLength="18" lengthAdjust="spacingAndGlyphs">1D</text><text x="189.6" y="65" font-size="16" fill="#131313" stroke="#131313" stroke-width="0.5" >·</text><text x="199.2" y="65" font-size="16" fill="#131313" stroke="#131313" stroke-width="0.5" >Binance</text><text x="267.4" y="65" font-size="16" fill="#131313" stroke="#131313" stroke-width="0.5" >O</text><text x="278.1" y="65" font-size="16" fill="#f23645" stroke="#f23645" stroke-width="0.5" >0.00005783</text><text x="372.4" y="65" font-size="16" fill="#131313" stroke="#131313" stroke-width="0.5" >H</text><text x="382.7" y="65" font-size="16" fill="#f23645" stroke="#f23645" stroke-width="0.5" >0.00005839</text><text x="477.1" y="65" font-size="16" fill="#131313" stroke="#131313" stroke-width="0.5" >L</text><text x="485.4" y="65" font-size="16" fill="#f23645" stroke="#f23645" stroke-width="0.5" >0.00005692</text><text x="578.3" y="65" font-size="16" fill="#131313" stroke="#131313" stroke-width="0.5" >C</text><text x="589.3" y="65" font-size="16" fill="#f23645" stroke="#f23645" stroke-width="0.5" >0.00005700</text><text x="683.2" y="65" font-size="15.75" fill="#f23645" stroke="#f23645" stroke-width="0.5" >−0.00000080 (−1.38%)</text><text x="24.8" y="88.8" font-size="16" fill="#131313" stroke="#131313" stroke-width="0.5" >Vol</text><text x="52.9" y="88.8" font-size="16" fill="#131313" stroke="#131313" stroke-width="0.5" >·</text><text x="63.3" y="88.8" font-size="16" fill="#131313" stroke="#131313" stroke-width="0.5" textLength="39.2" lengthAdjust="spacingAndGlyphs">LUNC</text><text x="113.5" y="88.8" font-size="16" fill="#ef5350" stroke="#ef5350" stroke-width="0.5" >17.78</text><text x="155.5" y="88.8" font-size="16" fill="#ef5350" stroke="#ef5350" stroke-width="0.5" >B</text><text x="24.8" y="112.6" font-size="16" fill="#131313" stroke="#131313" stroke-width="0.5" >SMA (50, close)</text><text x="146.6" y="112.6" font-size="16" fill="#2962ff" stroke="#2962ff" stroke-width="0.5" >0.00006165</text><text x="24.8" y="136.4" font-size="16" fill="#131313" stroke="#131313" stroke-width="0.5" >SMA (200, close)</text><text x="155.4" y="136.4" font-size="16" fill="#f23645" stroke="#f23645" stroke-width="0.5" >0.00007849</text><text x="24.8" y="160.2" font-size="16" fill="#131313" stroke="#131313" stroke-width="0.5" >EMA (50, close)</text><text x="147.6" y="160.2" font-size="16" fill="#f57c00" stroke="#f57c00" stroke-width="0.5" >0.00006089</text><text x="24.8" y="184" font-size="16" fill="#131313" stroke="#131313" stroke-width="0.5" >EMA (20, close)</text><text x="147.6" y="184" font-size="16" fill="#26c6da" stroke="#26c6da" stroke-width="0.5" >0.00005949</text><text x="1572.6" y="515" font-size="16.2" fill="#131313" stroke="#131313" stroke-width="0.5" >0.00005000</text><text x="1572.6" y="390" font-size="16.2" fill="#131313" stroke="#131313" stroke-width="0.5" >0.00007000</text><text x="1572.6" y="328" font-size="16.2" fill="#131313" stroke="#131313" stroke-width="0.5" >0.00008000</text><text x="1572.6" y="265" font-size="16.2" fill="#131313" stroke="#131313" stroke-width="0.5" >0.00009000</text><text x="1572.6" y="203" font-size="16.2" fill="#131313" stroke="#131313" stroke-width="0.5" >0.00010000</text><text x="1572.6" y="141" font-size="16.2" fill="#131313" stroke="#131313" stroke-width="0.5" >0.00011000</text><text x="1572.6" y="79" font-size="16.2" fill="#131313" stroke="#131313" stroke-width="0.5" >0.00012000</text><path d="M1563 320h99a3 3 0 0 1 3 3v17a3 3 0 0 1 -3 3h-99z" fill="#f23645" shape-rendering="geometricPrecision"/><text x="1572.9" y="337.9" font-size="16.35" fill="#fff" stroke="#fff" stroke-width="0.5" >0.00007849</text><path d="M1563 384h99a3 3 0 0 1 3 3v17a3 3 0 0 1 -3 3h-99z" fill="#2962ff" shape-rendering="geometricPrecision"/><text x="1572.9" y="401.9" font-size="16.35" fill="#fff" stroke="#fff" stroke-width="0.5" >0.00006165</text><path d="M1563 407h99a3 3 0 0 1 3 3v17a3 3 0 0 1 -3 3h-99z" fill="#f57c00" shape-rendering="geometricPrecision"/><text x="1572.9" y="424.9" font-size="16.35" fill="#fff" stroke="#fff" stroke-width="0.5" >0.00006089</text><path d="M1563 430h99a3 3 0 0 1 3 3v17a3 3 0 0 1 -3 3h-99z" fill="#26c6da" shape-rendering="geometricPrecision"/><text x="1572.9" y="447.9" font-size="16.35" fill="#131313" stroke="#131313" stroke-width="0.5" >0.00005949</text><path d="M1563 454h99a3 3 0 0 1 3 3v17a3 3 0 0 1 -3 3h-99z" fill="#f23645" shape-rendering="geometricPrecision"/><text x="1572.9" y="471.9" font-size="16.35" fill="#fff" stroke="#fff" stroke-width="0.5" >0.00005700</text><path d="M1563 532h68a3 3 0 0 1 3 3v17a3 3 0 0 1 -3 3h-68z" fill="#ef5350" shape-rendering="geometricPrecision"/><text x="1573.8" y="549.8" font-size="16" fill="#fff" stroke="#fff" stroke-width="0.5" >17.78</text><text x="1616.5" y="549.8" font-size="16" fill="#fff" stroke="#fff" stroke-width="0.5" >B</text><text x="197.5" y="581" font-size="17" fill="#131313" text-anchor="middle" font-weight="bold">2025</text><text x="424.5" y="581" font-size="16.2" fill="#131313" stroke="#131313" stroke-width="0.5" text-anchor="middle">Feb</text><text x="629.5" y="581" font-size="16.2" fill="#131313" stroke="#131313" stroke-width="0.5" text-anchor="middle">Mar</text><text x="856.5" y="581" font-size="16.2" fill="#131313" stroke="#131313" stroke-width="0.5" text-anchor="middle">Apr</text><text x="1076.5" y="581" font-size="16.2" fill="#131313" stroke="#131313" stroke-width="0.5" text-anchor="middle">May</text><text x="1303.5" y="581" font-size="16.2" fill="#131313" stroke="#131313" stroke-width="0.5" text-anchor="middle">Jun</text><text x="1523.5" y="581" font-size="16.2" fill="#131313" stroke="#131313" stroke-width="0.5" text-anchor="middle">Jul</text><g fill="#131313" shape-rendering="geometricPrecision"><path d="M14 611h11v13.5h-5.2v-8.3H14z"/><circle cx="30" cy="613.6" r="2.6"/><path d="M35.5 611h6l-6.5 13.5h-6z"/></g><text x="46" y="624.5" font-size="17.5" fill="#131313" stroke="#131313" stroke-width="0.5" >TradingView</text></svg></body></html>
